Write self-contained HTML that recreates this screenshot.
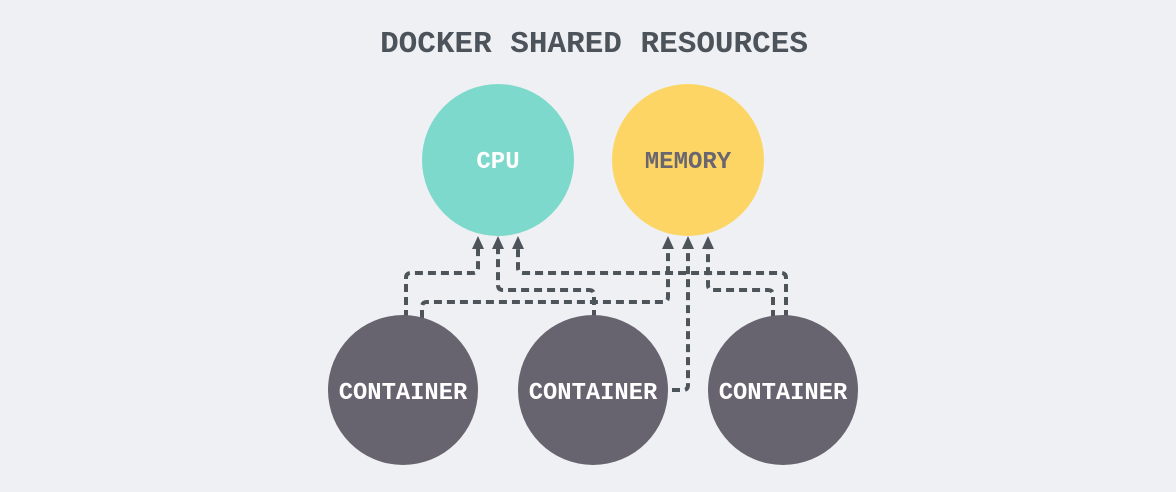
<!DOCTYPE html>
<html><head><style>
html,body{margin:0;padding:0;background:#eff0f3;}
svg{display:block}
</style></head><body>
<svg width="1176" height="492" viewBox="0 0 1176 492" xmlns="http://www.w3.org/2000/svg">
<rect width="1176" height="492" fill="#eff0f3"/>
<text x="594" y="52" text-anchor="middle" font-family="Liberation Mono, monospace" font-weight="bold" font-size="31" fill="#4c535b">DOCKER SHARED RESOURCES</text>
<circle cx="498" cy="160" r="76" fill="#7dd9cb"/>
<circle cx="688" cy="160" r="76" fill="#fdd565"/>
<text x="498" y="168" text-anchor="middle" font-family="Liberation Mono, monospace" font-weight="bold" font-size="24" fill="#ffffff">CPU</text>
<text x="688" y="168" text-anchor="middle" font-family="Liberation Mono, monospace" font-weight="bold" font-size="24" fill="#6a6670">MEMORY</text>
<g fill="none" stroke="#4d555b" stroke-width="4" stroke-dasharray="8,5">
<path d="M406 318 V278 Q406 273 411 273 H473 Q478 273 478 268 V246"/>
<path d="M422 318 V307 Q422 302 427 302 H663 Q668 302 668 297 V246"/>
<path d="M594 318 V295 Q594 290 589 290 H503 Q498 290 498 285 V246"/>
<path d="M672 390 H683 Q688 390 688 385 V246"/>
<path d="M773 318 V295 Q773 290 768 290 H713 Q708 290 708 285 V246"/>
<path d="M786 318 V278 Q786 273 781 273 H523 Q518 273 518 268 V246"/>
</g>
<g fill="#4d555b">
<polygon points="478,236 472,249 484,249"/>
<polygon points="498,236 492,249 504,249"/>
<polygon points="518,236 512,249 524,249"/>
<polygon points="668,236 662,249 674,249"/>
<polygon points="688,236 682,249 694,249"/>
<polygon points="708,236 702,249 714,249"/>
</g>
<circle cx="403" cy="390" r="75" fill="#67646f"/>
<circle cx="593" cy="390" r="75" fill="#67646f"/>
<circle cx="783" cy="390" r="75" fill="#67646f"/>
<g font-family="Liberation Mono, monospace" font-weight="bold" font-size="23.8" fill="#ffffff" text-anchor="middle">
<text x="403" y="399">CONTAINER</text>
<text x="593" y="399">CONTAINER</text>
<text x="783" y="399">CONTAINER</text>
</g>
</svg>
</body></html>
